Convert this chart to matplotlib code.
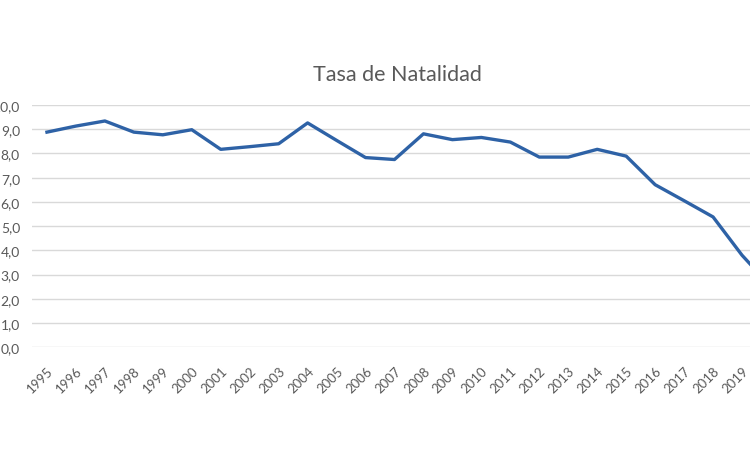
import matplotlib
matplotlib.use('Agg')
import matplotlib.pyplot as plt

# values (2020 is beyond the crop, estimated)
years = [str(y) for y in range(1995, 2021)]
tasa = [8.88, 9.13, 9.34, 8.88, 8.77, 8.98, 8.17, 8.28, 8.40, 9.26,
        8.54, 7.83, 7.75, 8.81, 8.57, 8.66, 8.47, 7.85, 7.85, 8.17,
        7.89, 6.71, 6.05, 5.38, 3.80, 2.50]
yticks = [0, 1, 2, 3, 4, 5, 6, 7, 8, 9, 10]

TXT = '#595959'
plt.rcParams['font.family'] = ['Lato', 'DejaVu Sans']

fig = plt.figure(figsize=(7.5, 4.52), dpi=100)
# axes deliberately runs past the right edge: the reference is a cropped screenshot
ax = fig.add_axes([0.0433, 0.2294, 1.004, 0.5361])

x = list(range(len(years)))
ax.plot(x, tasa, color='#2e62a6', lw=2.4, solid_joinstyle='round', zorder=3)

ax.set_xlim(-0.5, len(years) - 0.5)
ax.set_ylim(0, 10)
ax.set_yticks(yticks)
ax.set_yticklabels([f"{v:.1f}".replace('.', ',') for v in yticks], color=TXT, fontsize=10)
ax.set_xticks(x)
ax.set_xticklabels(years, rotation=45, ha='right', rotation_mode='anchor',
                   color=TXT, fontsize=9.5)
ax.tick_params(axis='both', length=0)
ax.tick_params(axis='y', pad=9)
ax.tick_params(axis='x', pad=12)
ax.grid(axis='y', color='#d9d9d9', lw=1)
ax.set_axisbelow(True)
for s in ax.spines.values():
    s.set_visible(False)

fig.text(397 / 750, 1 - 75 / 452, 'Tasa de Natalidad', ha='center', va='center',
         color=TXT, fontsize=15.5)

fig.savefig('out.png', dpi=100)
